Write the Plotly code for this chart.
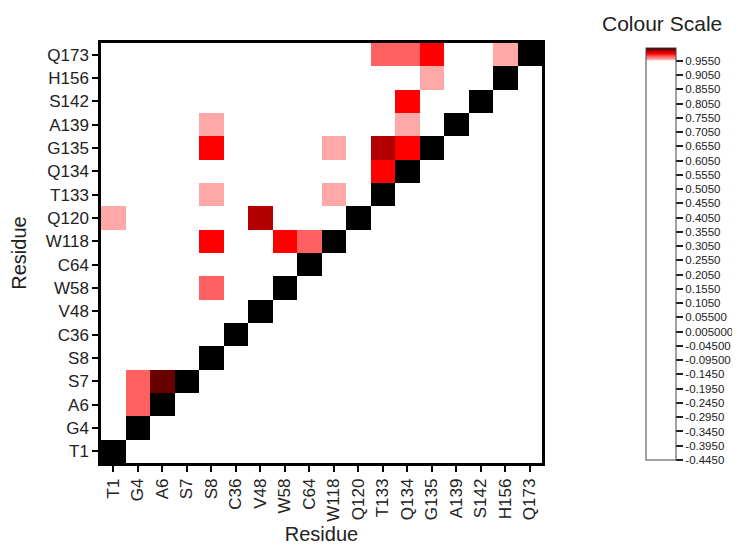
import numpy as np
import plotly.graph_objects as go

residues = ["T1", "G4", "A6", "S7", "S8", "C36", "V48", "W58", "C64", "W118",
            "Q120", "T133", "Q134", "G135", "A139", "S142", "H156", "Q173"]

# off-diagonal correlated pairs (row residue, column residue, value)
pair_rows = ["Q173", "Q173", "Q173", "Q173", "H156", "S142", "A139", "A139",
             "G135", "G135", "G135", "G135", "Q134", "T133", "T133", "Q120",
             "Q120", "W118", "W118", "W118", "W58", "S7", "S7", "A6"]
pair_cols = ["T133", "Q134", "G135", "H156", "G135", "Q134", "S8", "Q134",
             "S8", "W118", "T133", "Q134", "T133", "S8", "W118", "T1",
             "V48", "S8", "W58", "C64", "S8", "G4", "A6", "G4"]
pair_vals = [0.970, 0.970, 0.980, 0.960, 0.960, 0.980, 0.960, 0.960,
             0.980, 0.960, 0.990, 0.980, 0.980, 0.960, 0.960, 0.960,
             0.990, 0.980, 0.980, 0.970, 0.970, 0.970, 0.995, 0.970]
background_value = 0.0
diagonal_value = 1.0

cbar_ticks = [0.955, 0.905, 0.855, 0.805, 0.755, 0.705, 0.655, 0.605, 0.555,
              0.505, 0.455, 0.405, 0.355, 0.305, 0.255, 0.205, 0.155, 0.105,
              0.055, 0.005, -0.045, -0.095, -0.145, -0.195, -0.245, -0.295,
              -0.345, -0.395, -0.445]
cbar_text = ["0.9550", "0.9050", "0.8550", "0.8050", "0.7550", "0.7050", "0.6550",
             "0.6050", "0.5550", "0.5050", "0.4550", "0.4050", "0.3550", "0.3050",
             "0.2550", "0.2050", "0.1550", "0.1050", "0.05500", "0.005000",
             "-0.04500", "-0.09500", "-0.1450", "-0.1950", "-0.2450", "-0.2950",
             "-0.3450", "-0.3950", "-0.4450"]

zmin, zmax = -0.445, 1.0

n = len(residues)
idx = {r: i for i, r in enumerate(residues)}
z = np.full((n, n), background_value)
for i in range(n):
    z[i, i] = diagonal_value
for r, c, v in zip(pair_rows, pair_cols, pair_vals):
    z[idx[r], idx[c]] = v

def norm(v):
    return (v - zmin) / (zmax - zmin)

colorscale = [
    [0.0, "rgb(255,255,255)"],
    [norm(0.955), "rgb(255,255,255)"],
    [norm(0.960), "rgb(255,168,168)"],
    [norm(0.970), "rgb(255,96,96)"],
    [norm(0.980), "rgb(255,0,0)"],
    [norm(0.990), "rgb(178,0,0)"],
    [norm(0.995), "rgb(104,0,0)"],
    [1.0, "rgb(0,0,0)"],
]

# figure sits in the page with the browser's default 8px body margin
W, H = 732, 540
PL, PR, PT, PB = 93, 534, 35, 455
CB_L, CB_T = 638, 40
FONT = "Liberation Sans, Arial"

fig = go.Figure(go.Heatmap(
    z=z, x=residues, y=residues,
    zmin=zmin, zmax=zmax, zsmooth=False,
    colorscale=colorscale,
    colorbar=dict(
        xref="paper", x=(CB_L - PL) / (PR - PL), xanchor="left",
        yref="paper", y=(PB - CB_T) / (PB - PT), yanchor="top",
        thickness=30, thicknessmode="pixels",
        len=412, lenmode="pixels",
        outlinewidth=1, outlinecolor="#444",
        xpad=0, ypad=0,
        tickmode="array", tickvals=cbar_ticks, ticktext=cbar_text,
        ticks="outside", ticklen=7, tickwidth=1.5, tickcolor="#222",
        tickfont=dict(family=FONT, size=11.5, color="#222"),
    ),
))

axis_common = dict(
    showline=True, linewidth=2.5, linecolor="black", mirror=True,
    ticks="outside", ticklen=6, tickwidth=2, tickcolor="black",
    showgrid=False, zeroline=False, automargin=False,
    tickfont=dict(family=FONT, size=17, color="#222"),
    title_font=dict(family=FONT, size=20, color="#222"),
)

fig.update_xaxes(axis_common, title_text="Residue", tickangle=-90,
                 type="category", categoryorder="array", categoryarray=residues,
                 title_standoff=7)
fig.update_yaxes(axis_common, title_text="Residue",
                 type="category", categoryorder="array", categoryarray=residues,
                 title_standoff=20)

fig.add_annotation(
    text="Colour Scale", xref="paper", yref="paper",
    x=(654 - PL) / (PR - PL), y=1 + (PT - 16) / (PB - PT),
    xanchor="center", yanchor="middle", showarrow=False,
    font=dict(family=FONT, size=21, color="#222"),
)

fig.update_layout(
    width=W, height=H,
    margin=dict(l=PL, r=W - PR, t=PT, b=H - PB, autoexpand=False),
    paper_bgcolor="white", plot_bgcolor="white",
    font=dict(family=FONT),
)

fig.write_html("out.html")
